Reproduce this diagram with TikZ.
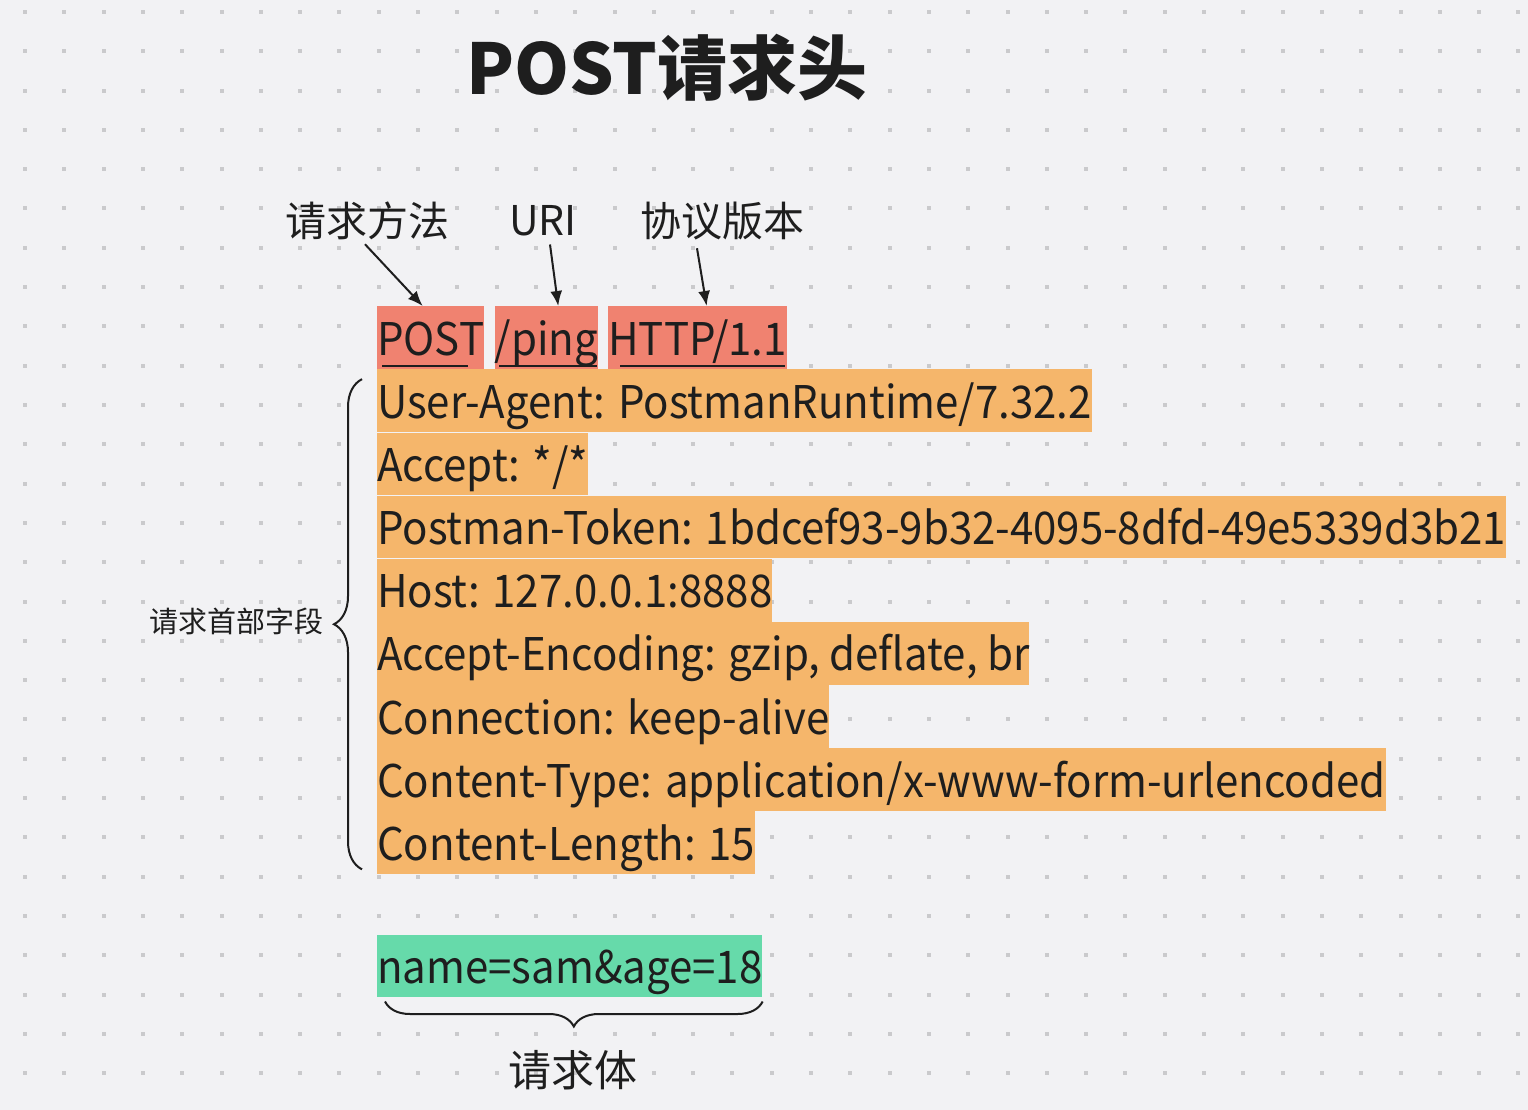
\documentclass[tikz,border=0pt]{standalone}
\usepackage{fontspec}
\setmainfont{Noto Sans CJK SC}
\newfontfamily\fieldfont[FakeStretch=0.933]{Noto Sans CJK SC}
\usetikzlibrary{positioning,arrows.meta,decorations.pathreplacing}
\definecolor{RQBack}{HTML}{F2F2F4}
\definecolor{RQDot}{HTML}{CACACC}
\definecolor{RQInk}{HTML}{1E1E1E}
\definecolor{RQRed}{HTML}{F08270}
\definecolor{RQOrange}{HTML}{F5B66B}
\definecolor{RQGreen}{HTML}{66DAAA}

\begin{document}
\begin{tikzpicture}[x=1pt,y=-1pt,
  field/.style={anchor=north west,inner sep=0pt,text height=49pt,text depth=13.75pt,
    font=\fieldfont\fontsize{45}{54}\selectfont,text=RQInk,fill=RQOrange},
  reqline/.style={field,fill=RQRed},
  tag/.style={font=\fontsize{41}{48}\selectfont,text=RQInk,inner sep=0pt},
  arr/.style={-{Latex[length=15pt,width=12pt]},line width=2pt,RQInk},
  uline/.style={line width=2pt,RQInk},
  brc/.style={decorate,line width=2pt,RQInk}]
\path[use as bounding box] (0,0) rectangle (1528,1110);
\fill[RQBack] (0,0) rectangle (1528,1110);
% dotted grid
\foreach \i in {0,...,38}
  \foreach \j in {0,...,27}
    \fill[RQDot] ({23+39.3*\i},{10+39.3*\j}) rectangle +(4,4);

\node[font=\fontsize{70}{80}\selectfont\bfseries,text=RQInk] (title) at (667,68) {POST请求头};

% request line
\node[reqline] (post) at (377,306) {POST};
\node[reqline,right=10pt of post] (uri) {/ping};
\node[reqline,right=10pt of uri] (ver) {HTTP/1.1};
\draw[uline] ([shift={(5,-3)}]post.south west) -- ([shift={(-16,-3)}]post.south east);
\draw[uline] ([shift={(5,-3)}]uri.south west) -- ([shift={(-1,-3)}]uri.south east);
\draw[uline] ([shift={(12,-3)}]ver.south west) -- ([shift={(-2,-3)}]ver.south east);

\node[tag] (lmethod) at (367,221) {请求方法};
\node[tag] (luri) at (543,221) {URI};
\node[tag] (lver) at (722,221) {协议版本};
\draw[arr] ([shift={(-2,4)}]lmethod.south) -- ([xshift=-8]post.north);
\draw[arr] ([shift={(7,8)}]luri.south) -- ([xshift=12]uri.north);
\draw[arr] ([shift={(-25,8)}]lver.south) -- ([xshift=9]ver.north);

% header fields
\node[field,below=0pt of post.south west,anchor=north west] (ua) {User-Agent: PostmanRuntime/7.32.2};
\node[field,below=0pt of ua.south west,anchor=north west] (accept) {Accept: */*};
\node[field,below=0pt of accept.south west,anchor=north west] (token) {Postman-Token: 1bdcef93-9b32-4095-8dfd-49e5339d3b21};
\node[field,below=0pt of token.south west,anchor=north west] (host) {Host: 127.0.0.1:8888};
\node[field,below=0pt of host.south west,anchor=north west] (enc) {Accept-Encoding: gzip, deflate, br};
\node[field,below=0pt of enc.south west,anchor=north west] (conn) {Connection: keep-alive};
\node[field,below=0pt of conn.south west,anchor=north west] (ctype) {Content-Type: application/x-www-form-urlencoded};
\node[field,below=0pt of ctype.south west,anchor=north west] (clen) {Content-Length: 15};

\draw[brc,decoration={brace,amplitude=28pt}] ([shift={(-15,-5)}]clen.south west) -- ([shift={(-15,10)}]ua.north west);
\node[tag,font=\fontsize{29}{34}\selectfont] (lhead) at (236,621) {请求首部字段};

% body
\node[field,fill=RQGreen,below=60pt of clen.south west,anchor=north west] (body) {name=sam\&age=18};
\draw[brc,decoration={brace,amplitude=25pt}] ([shift={(0,4)}]body.south east) -- ([shift={(8,4)}]body.south west);
\node[tag,font=\fontsize{43}{50}\selectfont] (lbody) at (573,1070) {请求体};
\end{tikzpicture}
\end{document}
